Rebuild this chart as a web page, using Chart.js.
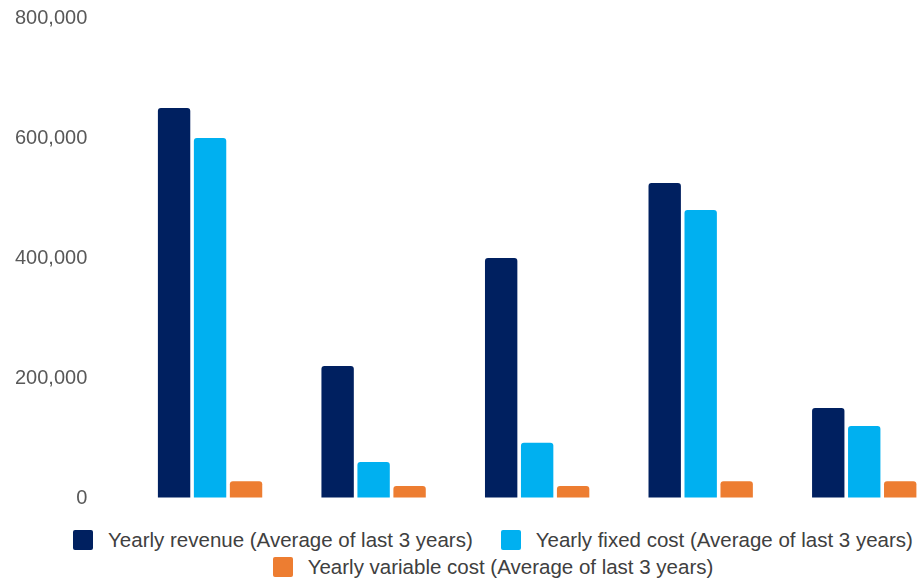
<!DOCTYPE html>
<html>
<head>
<meta charset="utf-8">
<script src="https://cdn.jsdelivr.net/npm/chart.js@4/dist/chart.umd.min.js"></script>
<style>
  html, body {
    margin: 0;
    padding: 0;
    background: #ffffff;
    overflow: hidden;
    width: 919px;
    height: 582px;
  }
  #chart-wrap {
    position: absolute;
    left: 0;
    top: 0;
    width: 986px;
    height: 515px;
  }
  #legend {
    position: absolute;
    left: 0;
    top: 528px;
    width: 986px;
    display: flex;
    flex-wrap: wrap;
    justify-content: center;
    column-gap: 28px;
    row-gap: 3px;
    font-family: "Liberation Sans", Arial, sans-serif;
    font-size: 20.5px;
    line-height: 24px;
    color: #404040;
  }
  .legend-item {
    display: flex;
    align-items: center;
    white-space: nowrap;
  }
  .legend-box {
    width: 20px;
    height: 20px;
    border-radius: 2px;
    margin-right: 15px;
  }
</style>
</head>
<body>
<div id="chart-wrap"><canvas id="chart"></canvas></div>
<div id="legend"></div>
<script>
  const categories = ["Group 1", "Group 2", "Group 3", "Group 4", "Group 5"];
  const revenue = [650000, 220000, 400000, 525000, 150000];
  const fixedCost = [600000, 60000, 92000, 480000, 120000];
  const variableCost = [28000, 20000, 20000, 28000, 28000];
  const seriesNames = [
    "Yearly revenue (Average of last 3 years)",
    "Yearly fixed cost (Average of last 3 years)",
    "Yearly variable cost (Average of last 3 years)",
  ];
  const yTicks = [0, 200000, 400000, 600000, 800000];

  const colors = ["#002060", "#00B0F0", "#ED7D31"];
  const seriesData = [revenue, fixedCost, variableCost];

  const ctx = document.getElementById("chart").getContext("2d");

  const chart = new Chart(ctx, {
    type: "bar",
    data: {
      labels: categories,
      datasets: seriesNames.map((name, i) => ({
        label: name,
        data: seriesData[i],
        backgroundColor: colors[i],
        borderRadius: 3,
        borderSkipped: "bottom",
        categoryPercentage: 0.66,
        barPercentage: 0.9,
      })),
    },
    options: {
      responsive: true,
      maintainAspectRatio: false,
      animation: false,
      locale: "en-US",
      layout: {
        padding: { left: 12, right: 40, top: 18, bottom: 17 },
      },
      plugins: {
        legend: { display: false },
        tooltip: { enabled: true },
      },
      scales: {
        x: {
          display: false,
        },
        y: {
          min: yTicks[0],
          max: yTicks[yTicks.length - 1],
          afterBuildTicks: (axis) => {
            axis.ticks = yTicks.map((v) => ({ value: v }));
          },
          // invisible tick marks keep the labels away from the bars
          grid: {
            color: "transparent",
            drawOnChartArea: false,
            drawTicks: true,
            tickLength: 38,
          },
          border: { display: false },
          ticks: {
            padding: 3,
            color: "#595959",
            font: { family: "'Liberation Sans', Arial, sans-serif", size: 20 },
            callback: (v) => v.toLocaleString("en-US"),
          },
        },
      },
    },
  });

  // HTML legend built from the datasets
  const legend = document.getElementById("legend");
  chart.data.datasets.forEach((ds) => {
    const item = document.createElement("div");
    item.className = "legend-item";
    const box = document.createElement("span");
    box.className = "legend-box";
    box.style.background = ds.backgroundColor;
    const text = document.createElement("span");
    text.textContent = ds.label;
    item.appendChild(box);
    item.appendChild(text);
    legend.appendChild(item);
  });
</script>
</body>
</html>
